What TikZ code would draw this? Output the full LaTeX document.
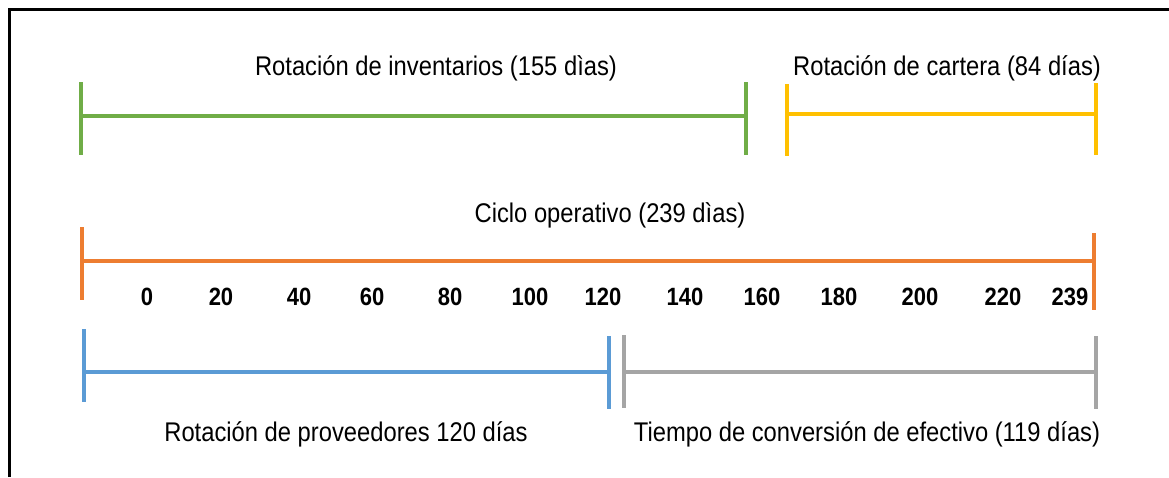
\documentclass[tikz,border=0pt]{standalone}
\usepackage{fontspec}
\setmainfont[FakeStretch=0.88]{Liberation Sans}
\usepackage{tikz}
\usetikzlibrary{positioning}

\definecolor{invgreen}{RGB}{112,173,71}
\definecolor{carteraYellow}{RGB}{255,192,0}
\definecolor{cicloOrange}{RGB}{237,125,49}
\definecolor{provBlue}{RGB}{91,155,213}
\definecolor{efecGray}{RGB}{165,165,165}

\begin{document}
\begin{tikzpicture}[x=1pt,y=-1pt,
                every node/.style={font=\fontsize{27}{31}\selectfont,inner sep=0pt},
                bar/.style={line width=4pt},
                tick/.style={font=\fontsize{25}{29}\selectfont\bfseries}]
  \useasboundingbox (0,0) rectangle (1169,477);
  \draw[line width=3pt] (9,477) -- (9,9) -- (1169,9);

  % inventarios
  \coordinate (inva) at (81,116);
  \coordinate (invb) at (746,116);
  \draw[bar,invgreen] (81,82) -- (81,155);
  \draw[bar,invgreen] (746,82) -- (746,155);
  \draw[bar,invgreen] (inva) -- (invb);
  \node (invlabel) at (436,68) {Rotación de inventarios (155 dìas)};

  % cartera
  \coordinate (cara) at (787,114);
  \coordinate (carb) at (1096,114);
  \draw[bar,carteraYellow] (787,84) -- (787,156);
  \draw[bar,carteraYellow] (1096,83) -- (1096,155);
  \draw[bar,carteraYellow] (cara) -- (carb);
  \node (carlabel) at (947,68) {Rotación de cartera (84 días)};

  % ciclo operativo
  \coordinate (cica) at (82,261);
  \coordinate (cicb) at (1094,261);
  \draw[bar,cicloOrange] (82,227) -- (82,300);
  \draw[bar,cicloOrange] (1094,233) -- (1094,310);
  \draw[bar,cicloOrange] (cica) -- (cicb);
  \node (ciclabel) at (610,215) {Ciclo operativo (239 dìas)};
  \foreach \x/\n in {147/0,221/20,299/40,372/60,450/80,530/100,603/120,
                     685/140,762/160,839/180,920/200,1003/220,1070/239}
    \node[tick] (t\n) at (\x,297) {\n};

  % proveedores
  \coordinate (prova) at (84,372);
  \coordinate (provb) at (609,372);
  \draw[bar,provBlue] (84,329) -- (84,402);
  \draw[bar,provBlue] (609,336) -- (609,409);
  \draw[bar,provBlue] (prova) -- (provb);
  \node (provlabel) at (346,434) {Rotación de proveedores 120 días};

  % conversion de efectivo
  \coordinate (efea) at (624,372);
  \coordinate (efeb) at (1096,372);
  \draw[bar,efecGray] (624,335) -- (624,408);
  \draw[bar,efecGray] (1096,336) -- (1096,409);
  \draw[bar,efecGray] (efea) -- (efeb);
  \node (efelabel) at (867,434) {Tiempo de conversión de efectivo (119 días)};
\end{tikzpicture}
\end{document}
